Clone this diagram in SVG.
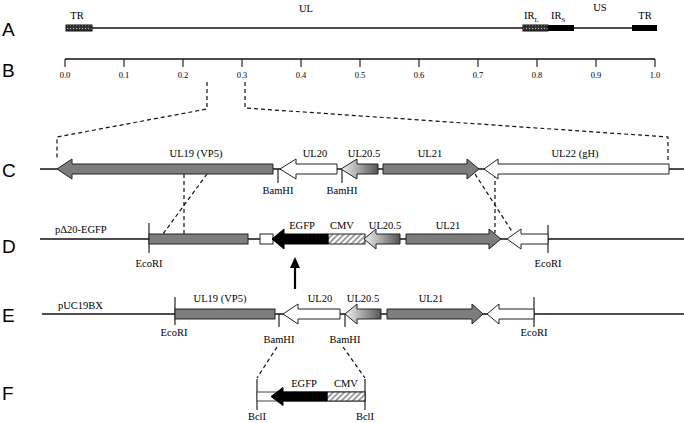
<svg xmlns="http://www.w3.org/2000/svg" width="684" height="423" viewBox="0 0 684 423">
<defs>
<linearGradient id="grad" x1="0" y1="0" x2="1" y2="0">
<stop offset="0" stop-color="#f2f2f2"/>
<stop offset="1" stop-color="#555"/>
</linearGradient>
<pattern id="hatch" width="4" height="4" patternUnits="userSpaceOnUse" patternTransform="rotate(45)">
<rect width="4" height="4" fill="#fff"/>
<rect width="1.6" height="4" fill="#888"/>
</pattern>
<pattern id="dots" width="3" height="3" patternUnits="userSpaceOnUse">
<rect width="3" height="3" fill="#333"/>
<rect x="1" y="1" width="1" height="1" fill="#bbb"/>
</pattern>
</defs>
<style>
.ln{stroke:#111;stroke-width:1.3;fill:none}
.tk{stroke:#111;stroke-width:1.1;fill:none}
.ds{stroke:#111;stroke-width:1.2;fill:none;stroke-dasharray:4,3}
.g{fill:#7d7d7d;stroke:#222;stroke-width:1}
.w{fill:#fff;stroke:#222;stroke-width:1}
.k{fill:#000;stroke:#000;stroke-width:1}
.gr{fill:url(#grad);stroke:#222;stroke-width:1}
.h{fill:url(#hatch);stroke:#222;stroke-width:1}
.t{font-family:"Liberation Serif",serif;font-size:10.5px;fill:#000;text-anchor:middle}
.ts{font-family:"Liberation Serif",serif;font-size:8.5px;fill:#000;text-anchor:middle}
.tl{font-family:"Liberation Serif",serif;font-size:10.5px;fill:#000}
.L{font-family:"Liberation Sans",Arial,sans-serif;font-size:19px;fill:#000}
</style>
<rect width="684" height="423" fill="#fff"/>

<g id="letters">
<text class="L" x="2" y="36">A</text>
<text class="L" x="2" y="77">B</text>
<text class="L" x="2" y="177">C</text>
<text class="L" x="2" y="253">D</text>
<text class="L" x="2" y="322">E</text>
<text class="L" x="2" y="400">F</text>
</g>

<g id="rowA">
<line class="ln" x1="66" y1="28" x2="657" y2="28"/>
<rect x="66" y="25" width="26" height="6" fill="url(#dots)" stroke="#111" stroke-width="1"/>
<rect x="523" y="25" width="25" height="6" fill="url(#dots)" stroke="#111" stroke-width="1"/>
<rect x="548" y="25" width="26" height="6" fill="#000"/>
<rect x="632" y="25" width="25" height="6" fill="#000"/>
<text class="t" x="77" y="19">TR</text>
<text class="t" x="306" y="12">UL</text>
<text class="t" x="600" y="11">US</text>
<text class="t" x="645" y="19">TR</text>
<text class="tl" x="524" y="19">IR<tspan font-size="7" dy="3">L</tspan></text>
<text class="tl" x="551" y="19">IR<tspan font-size="7" dy="3">S</tspan></text>
</g>

<g id="rowB">
<line class="ln" x1="65" y1="59" x2="655" y2="59"/>
<path class="tk" d="M65,59V67M124,59V67M183,59V67M242,59V67M301,59V67M360,59V67M419,59V67M478,59V67M537,59V67M596,59V67M655,59V67"/>
<text class="ts" x="65" y="78">0.0</text>
<text class="ts" x="124" y="78">0.1</text>
<text class="ts" x="183" y="78">0.2</text>
<text class="ts" x="242" y="78">0.3</text>
<text class="ts" x="301" y="78">0.4</text>
<text class="ts" x="360" y="78">0.5</text>
<text class="ts" x="419" y="78">0.6</text>
<text class="ts" x="478" y="78">0.7</text>
<text class="ts" x="537" y="78">0.8</text>
<text class="ts" x="596" y="78">0.9</text>
<text class="ts" x="655" y="78">1.0</text>
</g>

<g id="connectors">
<path class="ds" d="M207,82V109L57,137V160"/>
<path class="ds" d="M245,82V108L668,137V163"/>
<path class="ds" d="M184,174V234"/>
<path class="ds" d="M207,174L163,234"/>
<path class="ds" d="M475,174L513,233"/>
<path class="ds" d="M495,174V233"/>
<path class="ds" d="M277,347L257,378"/>
<path class="ds" d="M343,347L365,378"/>
<line x1="295" y1="289" x2="295" y2="266" stroke="#000" stroke-width="2.2"/>
<path d="M290,268L295,257L300,268Z" fill="#000"/>
</g>

<g id="rowC">
<line class="ln" x1="40" y1="169" x2="684" y2="169"/>
<path class="tk" d="M278,169V183M342,169V183"/>
<path class="g" d="M57,169L72,159V164H273V174H72V179Z"/>
<path class="w" d="M280,169L296,159V164H337V174H296V179Z"/>
<path class="gr" d="M341,169L357,159V164H378V174H357V179Z"/>
<path class="g" d="M479,169L467,159V164H383V174H467V179Z"/>
<path class="w" d="M484,169L498,159V164H669V174H498V179Z"/>
<text class="t" x="196" y="157">UL19 (VP5)</text>
<text class="t" x="315" y="157">UL20</text>
<text class="t" x="364" y="157">UL20.5</text>
<text class="t" x="430" y="157">UL21</text>
<text class="t" x="575" y="157">UL22 (gH)</text>
<text class="t" x="278" y="194">BamHI</text>
<text class="t" x="342" y="194">BamHI</text>
</g>

<g id="rowD">
<line class="ln" x1="40" y1="239" x2="684" y2="239"/>
<path class="tk" d="M149,223V253M548,225V253"/>
<rect class="g" x="149" y="234" width="99" height="10"/>
<rect class="w" x="260" y="234" width="13" height="10"/>
<rect class="h" x="328" y="234" width="37" height="10"/>
<path class="k" d="M272,239L284,229V234H328V244H284V249Z"/>
<path class="gr" d="M364,239L376,229V234H400V244H376V249Z"/>
<path class="g" d="M501,239L489,229V234H406V244H489V249Z"/>
<path class="w" d="M507,239L521,229V234H548V244H521V249Z"/>
<text class="tl" x="55" y="233">pΔ20-EGFP</text>
<text class="t" x="302" y="229">EGFP</text>
<text class="t" x="342" y="229">CMV</text>
<text class="t" x="385" y="229">UL20.5</text>
<text class="t" x="448" y="229">UL21</text>
<text class="t" x="149" y="267">EcoRI</text>
<text class="t" x="548" y="267">EcoRI</text>
</g>

<g id="rowE">
<line class="ln" x1="42" y1="314" x2="684" y2="314"/>
<path class="tk" d="M175,297V325M534,297V327M279,314V327M345,314V327"/>
<rect class="g" x="175" y="309" width="100" height="10"/>
<path class="w" d="M283,314L298,304V309H340V319H298V324Z"/>
<path class="gr" d="M345,314L357,304V309H381V319H357V324Z"/>
<path class="g" d="M483,314L472,304V309H387V319H472V324Z"/>
<path class="w" d="M487,314L499,304V309H534V319H499V324Z"/>
<text class="tl" x="58" y="309">pUC19BX</text>
<text class="t" x="220" y="302">UL19 (VP5)</text>
<text class="t" x="320" y="302">UL20</text>
<text class="t" x="363" y="302">UL20.5</text>
<text class="t" x="431" y="302">UL21</text>
<text class="t" x="174" y="336">EcoRI</text>
<text class="t" x="534" y="336">EcoRI</text>
<text class="t" x="279" y="343">BamHI</text>
<text class="t" x="345" y="343">BamHI</text>
</g>

<g id="rowF">
<path class="tk" d="M257,379V410M365,379V410"/>
<rect x="257" y="392" width="108" height="9" fill="#fff" stroke="#444" stroke-width="1"/>
<rect class="h" x="327" y="392" width="38" height="9"/>
<path class="k" d="M271,396.5L283,387.5V392H327V401H283V405.5Z"/>
<text class="t" x="304" y="387">EGFP</text>
<text class="t" x="346" y="387">CMV</text>
<text class="t" x="257" y="420">BclI</text>
<text class="t" x="365" y="420">BclI</text>
</g>
</svg>
